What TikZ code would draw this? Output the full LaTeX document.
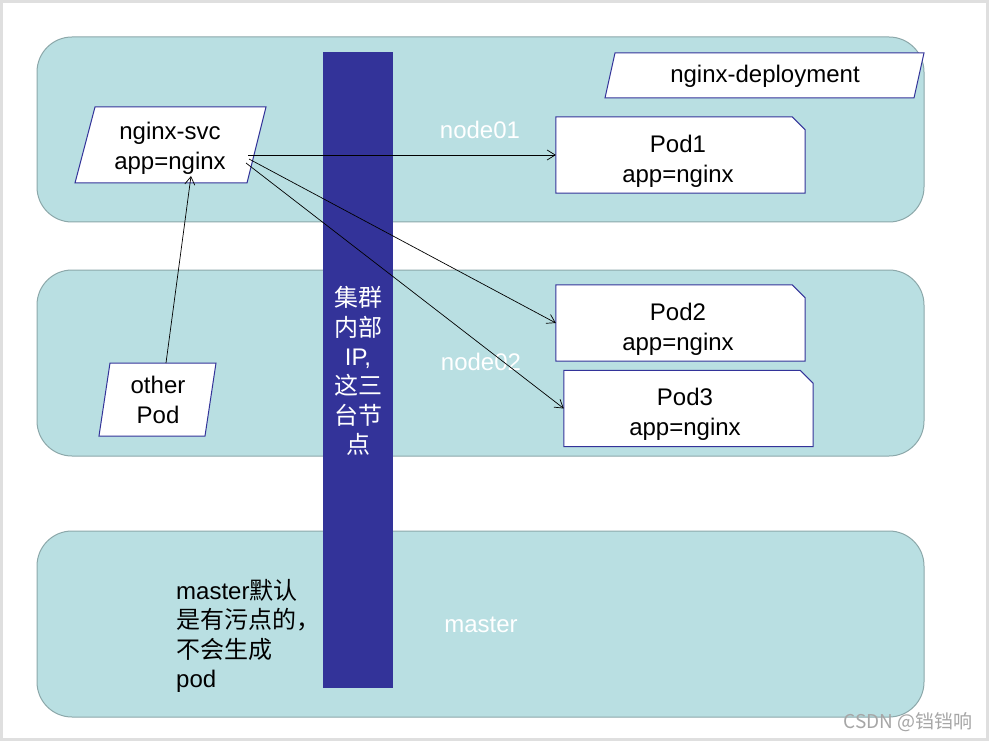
\documentclass[tikz,border=0pt]{standalone}
\usepackage{fontspec}
\setmainfont{Liberation Sans}
\newfontfamily\cjk{Noto Sans CJK SC}
\usetikzlibrary{arrows.meta}
\definecolor{band}{RGB}{185,223,226}
\definecolor{bandline}{RGB}{140,168,170}
\definecolor{navy}{RGB}{51,51,153}
\tikzset{
  bandbox/.style={fill=band,draw=bandline,line width=1pt,rounded corners=35pt},
  shapeline/.style={draw=navy,fill=white,line width=1pt},
  podbox/.style={rectangle,minimum width=249pt,minimum height=76pt,inner sep=0pt},
  lbl/.style={align=center,inner sep=0pt,font=\fontsize{24}{30}\selectfont},
  whitelbl/.style={text=white,inner sep=0pt,font=\fontsize{24}{28}\selectfont},
  conn/.style={black,line width=0.7pt,-{Straight Barb[length=8pt,width=10pt]}}
}
\newcommand{\podshape}[1]{\draw[shapeline] (#1.north west) -- ([xshift=-13pt]#1.north east)
  -- ([yshift=-13pt]#1.north east) -- (#1.south east) -- (#1.south west) -- cycle;}
\begin{document}
\begin{tikzpicture}[x=1pt,y=-1pt]
\useasboundingbox (0,0) rectangle (989,741);
\fill[white] (0,0) rectangle (989,741);
\draw[gray!25,line width=3pt] (1.5,1.5) rectangle (987.5,739.5);
% bands
\path[bandbox] (37,37) rectangle (924,222);
\path[bandbox] (37,270) rectangle (924,456);
\path[bandbox] (37,531) rectangle (924,717);
% vertical bar
\fill[navy] (323,52) rectangle (393,688);
\node[text=white,align=center,inner sep=0pt,font=\cjk\fontsize{24}{29.3}\selectfont] (bar) at (358,371)
  {集群\\内部\\{\rmfamily IP,}\\这三\\台节\\点};
% white labels
\node[whitelbl] (n1) at (480,130) {node01};
\node[whitelbl] (n2) at (481,362) {node02};
\node[whitelbl] (nm) at (481,625) {master};
% deployment
\draw[shapeline] (615,53) -- (924,53) -- (914,98) -- (605,98) -- cycle;
\node[lbl] (dep) at (765,76) {nginx-deployment};
% svc
\draw[shapeline] (95,107) -- (266,107) -- (247,183) -- (75,183) -- cycle;
\node[lbl] (svc) at (170,148) {nginx-svc\\app=nginx};
% other pod
\draw[shapeline] (110,363) -- (216,363) -- (205,436) -- (99,436) -- cycle;
\node[lbl] (op) at (158,400) {other\\Pod};
% pods
\node[podbox] (p1) at (680.5,155) {};
\node[podbox] (p2) at (680.5,323) {};
\node[podbox] (p3) at (688.5,408.5) {};
\podshape{p1}
\podshape{p2}
\podshape{p3}
\node[lbl] (t1) at (678,161) {Pod1\\app=nginx};
\node[lbl] (t2) at (678,329) {Pod2\\app=nginx};
\node[lbl] (t3) at (685,414) {Pod3\\app=nginx};
% master text
\node[anchor=west,align=left,inner sep=0pt,font=\fontsize{24}{29.3}\selectfont] (mt) at (176,636)
  {master{\cjk 默认}\\{\cjk 是有污点的，}\\{\cjk 不会生成}\\pod};
% connectors
\coordinate (s1) at (248,155);
\coordinate (s2) at (249,159);
\coordinate (s3) at (246,163);
\coordinate (ot) at (166,363);
\coordinate (svcin) at (191,176);
\draw[conn] (s1) -- (p1.west);
\draw[conn] (s2) -- (p2.west);
\draw[conn] (s3) -- (p3.west);
\draw[conn] (ot) -- (svcin);
% watermark
\node[text=gray!70,inner sep=0pt,font=\cjk\fontsize{19}{21}\selectfont] (wm) at (908,722) {CSDN @铛铛响};
\end{tikzpicture}
\end{document}
